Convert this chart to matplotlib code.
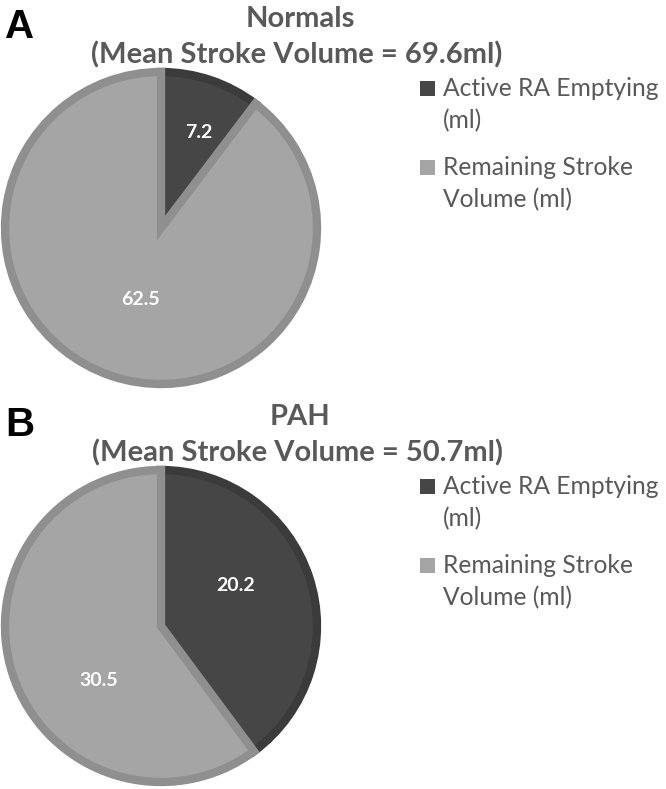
import numpy as np
import matplotlib.pyplot as plt
from matplotlib.patches import Rectangle

# data
groups = ['Normals', 'PAH']
panel_letters = ['A', 'B']
mean_stroke_volume = [69.6, 50.7]
active_ra_emptying = [7.2, 20.2]
remaining_stroke_volume = [62.5, 30.5]
legend_labels = [['Active RA Emptying', '(ml)'], ['Remaining Stroke', 'Volume (ml)']]

W, H = 666, 789
fill_colors = ['#464646', '#a5a5a5']
edge_colors = ['#3b3b3b', '#8f8f8f']
text_grey = '#595959'
font = ['Lato', 'DejaVu Sans']

# layout in pixels, measured from the top-left of panel A; panel B is shifted down
panel_shift = [0, 398]
pie_centre = (161, 228)
pie_radius = 156
# label positions inside each pie, in units of the radius
label_pos = [[(0.24, 0.61), (-0.13, -0.46)], [(0.48, 0.26), (-0.40, -0.35)]]

fig = plt.figure(figsize=(W / 100, H / 100), dpi=100)


def fx(x):
    return x / W


def fy(y):
    return 1 - y / H


for i in range(2):
    dy = panel_shift[i]
    cx, cy = pie_centre[0], pie_centre[1] + dy
    r = pie_radius
    ax = fig.add_axes([fx(cx - r), fy(cy + r), 2 * r / W, 2 * r / H])
    vals = [active_ra_emptying[i], remaining_stroke_volume[i]]
    wedges, _ = ax.pie(vals, colors=fill_colors, startangle=90, counterclock=False,
                       radius=1, wedgeprops=dict(linewidth=6))
    # border drawn on the inside of each wedge only
    for w, ec in zip(wedges, edge_colors):
        w.set_edgecolor(ec)
        w.set_clip_path(w)
    ax.set_xlim(-1, 1)
    ax.set_ylim(-1, 1)
    ax.axis('off')

    for v, (lx, ly) in zip(vals, label_pos[i]):
        ax.text(lx, ly, f'{v:.1f}', color='white', fontsize=14, fontweight='bold',
                family=font, ha='center', va='center')

    # panel letter and titles
    fig.text(fx(20), fy(27 + dy), panel_letters[i], fontsize=29, fontweight='bold',
             family=['Liberation Sans', 'DejaVu Sans'], ha='center', va='center',
             color='black')
    fig.text(fx(300), fy(19 + dy), groups[i], fontsize=21, fontweight='bold',
             family=font, ha='center', va='center', color=text_grey)
    fig.text(fx(297), fy(55 + dy), f'(Mean Stroke Volume = {mean_stroke_volume[i]}ml)',
             fontsize=21, fontweight='bold', family=font, ha='center', va='center',
             color=text_grey)

    # legend, drawn by hand so the marker sits on the first line
    base = 96 + dy
    for j, (lines, c) in enumerate(zip(legend_labels, fill_colors)):
        y0 = base + j * 79
        fig.patches.append(Rectangle((fx(420), fy(y0)), 15 / W, 15 / H, facecolor=c,
                                     edgecolor='none', transform=fig.transFigure))
        for k, line in enumerate(lines):
            fig.text(fx(443), fy(y0 + k * 32), line, fontsize=17.7, family=font,
                     ha='left', va='baseline', color=text_grey)

fig.savefig('out.png', dpi=100)
